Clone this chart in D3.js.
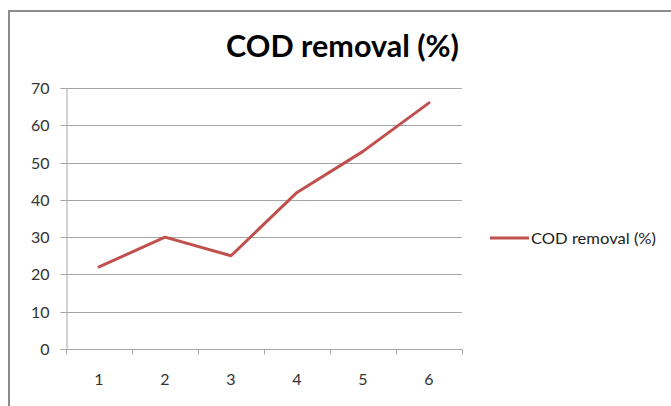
<!DOCTYPE html>
<html><head><meta charset="utf-8">
<script src="https://cdn.jsdelivr.net/npm/d3@7"></script>
<style>body{margin:0;background:#fff;} svg{display:block;}</style>
</head><body>
<svg id="c" width="671" height="406"></svg>
<script>
const categories = ["1","2","3","4","5","6"];
const codRemoval = [22, 30, 25, 42, 53, 66];
const yTicks = [0,10,20,30,40,50,60,70];
const seriesName = "COD removal (%)";
const title = "COD removal (%)";

const svg = d3.select("#c");
const font = "Lato, 'Open Sans', sans-serif";
const L = 66, R = 462, T = 88, B = 349;
const gridCol = "#a6a6a6";

// outer chart border
svg.append("path").attr("d", "M9,406 V11 H671").attr("fill","none").attr("stroke","#8c8c8c").attr("stroke-width",2);

const x = d3.scaleBand().domain(categories).range([L, R]);
const y = d3.scaleLinear().domain([0, 70]).range([B, T]);

// gridlines
svg.append("g").selectAll("line").data(yTicks.filter(d=>d>0)).join("line")
  .attr("x1", L).attr("x2", R).attr("y1", d=>Math.round(y(d))+0.5).attr("y2", d=>Math.round(y(d))+0.5)
  .attr("stroke", gridCol).attr("stroke-width", 1);

// y axis
const ya = svg.append("g").attr("transform", `translate(${L+0.5},0)`)
  .call(d3.axisLeft(y).tickValues(yTicks).tickSize(6).tickPadding(11));
ya.select(".domain").attr("stroke",gridCol);
ya.selectAll(".tick line").attr("stroke",gridCol);
ya.selectAll("text").attr("font-family",font).attr("font-size",16).attr("fill","#333");
ya.selectAll(".tick").attr("transform", d=>`translate(0,${Math.round(y(d))+0.5})`);

// x axis
const xa = svg.append("g").attr("transform", `translate(0,${B+0.5})`)
  .call(d3.axisBottom(x).tickSize(0).tickPadding(24));
xa.select(".domain").attr("stroke",gridCol).attr("d", `M${L},0H${R}`);
xa.selectAll("text").attr("font-family",font).attr("font-size",16).attr("fill","#333");
// category boundary ticks
const bounds = categories.map(c=>x(c)).concat([R]);
xa.append("g").selectAll("line").data(bounds).join("line")
  .attr("x1", d=>Math.round(d)+0.5).attr("x2", d=>Math.round(d)+0.5).attr("y1",0).attr("y2",5)
  .attr("stroke",gridCol);

// line
const line = d3.line().x((d,i)=>x(categories[i]) + x.bandwidth()/2).y(d=>y(d));
svg.append("path").datum(codRemoval).attr("d", line)
  .attr("fill","none").attr("stroke","#c0504d").attr("stroke-width",3).attr("stroke-linejoin","round").attr("stroke-linecap","round");

// title
svg.append("text").attr("x", 226).attr("y", 57)
  .attr("font-family",font).attr("font-weight","bold").attr("font-size",30).attr("fill","#000")
  .attr("textLength", 233).attr("lengthAdjust","spacingAndGlyphs").text(title);

// legend
svg.append("line").attr("x1",490).attr("x2",529).attr("y1",238).attr("y2",238)
  .attr("stroke","#c0504d").attr("stroke-width",3);
svg.append("text").attr("x",531).attr("y",244).attr("font-family",font).attr("font-size",15)
  .attr("fill","#222").attr("textLength",125).attr("lengthAdjust","spacingAndGlyphs").text(seriesName);
</script>
</body></html>
